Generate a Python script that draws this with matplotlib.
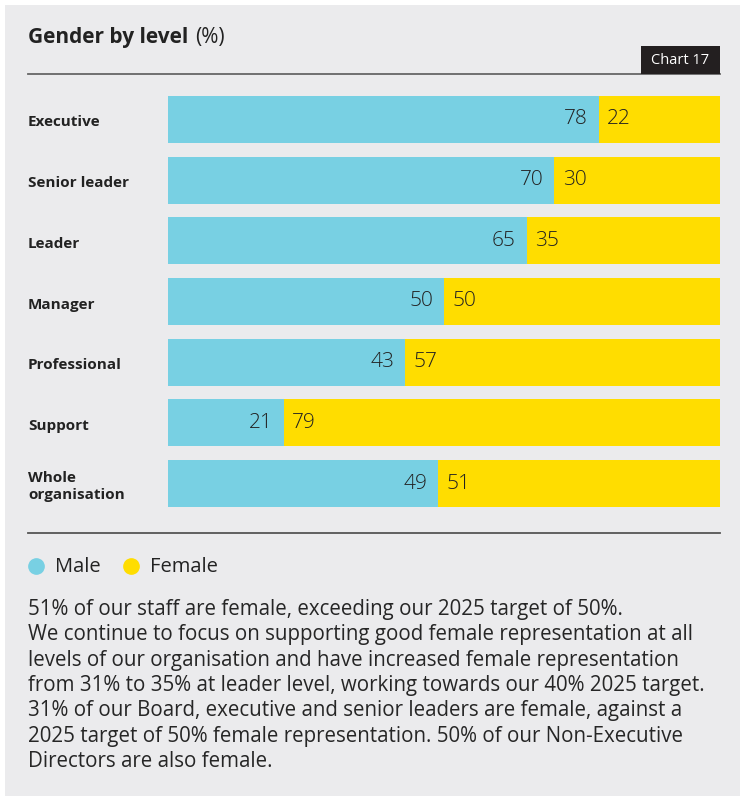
import matplotlib.pyplot as plt
from matplotlib.patches import Rectangle
import matplotlib.transforms as mtransforms

levels = ["Executive", "Senior leader", "Leader", "Manager", "Professional",
          "Support", "Whole\norganisation"]
male = [78, 70, 65, 50, 43, 21, 49]
female = [22, 30, 35, 50, 57, 79, 51]

body = ("51% of our staff are female, exceeding our 2025 target of 50%.\n"
        "We continue to focus on supporting good female representation at all\n"
        "levels of our organisation and have increased female representation\n"
        "from 31% to 35% at leader level, working towards our 40% 2025 target.\n"
        "31% of our Board, executive and senior leaders are female, against a\n"
        "2025 target of 50% female representation. 50% of our Non-Executive\n"
        "Directors are also female.")

c_male = "#78D0E3"
c_female = "#FFDD00"
ink = "#222222"
bg = "#EBEBED"
W, H = 740, 796

plt.rcParams['font.family'] = ['Open Sans', 'DejaVu Sans']

fig = plt.figure(figsize=(W / 100, H / 100), dpi=100)
fig.patch.set_facecolor("white")

def fx(px):
    return px / W

def fy(py):
    return 1 - py / H

# grey panel behind everything
fig.patches.append(Rectangle((fx(5), 0.0), 1.0, fy(5), transform=fig.transFigure,
                             facecolor=bg, edgecolor="none", zorder=-5))

# title
t = fig.text(fx(28), fy(38), "Gender by level", fontsize=15, fontweight="bold",
             color=ink, va="center", ha="left")
fig.canvas.draw()
bb = t.get_window_extent()
fig.text(bb.x1 / W + fx(7), fy(38), "(%)", fontsize=15, color=ink,
         va="center", ha="left")

# rule under title and tag
fig.add_artist(plt.Line2D([fx(28), fx(720)], [fy(73.5), fy(73.5)],
                          transform=fig.transFigure, color="#666666", lw=1.3))
fig.patches.append(Rectangle((fx(641), fy(74)), fx(79), 28 / H,
                             transform=fig.transFigure, facecolor="#231F20",
                             edgecolor="none", zorder=2))
fig.text(fx(680.5), fy(60), "Chart 17", fontsize=10.5, color="white",
         ha="center", va="center", zorder=3)

# bars
ax = fig.add_axes([fx(168), fy(514), fx(720) - fx(168), 425 / H])
ax.set_facecolor("none")
ypos = list(range(len(levels)))
ax.barh(ypos, male, height=0.775, color=c_male)
ax.barh(ypos, female, left=male, height=0.775, color=c_female)
ax.set_xlim(0, 100)
ax.set_ylim(len(levels) - 0.5, -0.5)
ax.axis("off")

for y, m, f in zip(ypos, male, female):
    ax.annotate(str(m), (m, y), xytext=(-8, 0), textcoords="offset points",
                ha="right", va="center", fontsize=15, fontweight="light",
                color=ink)
    ax.annotate(str(f), (m, y), xytext=(6, 0), textcoords="offset points",
                ha="left", va="center", fontsize=15, fontweight="light",
                color=ink)

trans = mtransforms.blended_transform_factory(fig.transFigure, ax.transData)
for y, name in zip(ypos, levels):
    ax.text(fx(28), y + 0.05, name, transform=trans, ha="left", va="center",
            fontsize=11, fontweight="bold", color=ink, linespacing=1.3)

# bottom rule
fig.add_artist(plt.Line2D([fx(28), fx(720)], [fy(533), fy(533)],
                          transform=fig.transFigure, color="#555555", lw=1.3))

# legend
for cx, col, lab in [(36, c_male, "Male"), (131, c_female, "Female")]:
    fig.add_artist(plt.Line2D([fx(cx)], [fy(566)], transform=fig.transFigure,
                              marker="o", markersize=11, color=col, lw=0))
    fig.text(fx(cx + 19), fy(567), lab, fontsize=14.5, color=ink,
             ha="left", va="center")

# note text
fig.text(fx(28), fy(599), body, fontsize=14.8, color="#262626", ha="left",
         va="top", linespacing=1.27)

fig.savefig("out.png", dpi=100, facecolor=fig.get_facecolor())
